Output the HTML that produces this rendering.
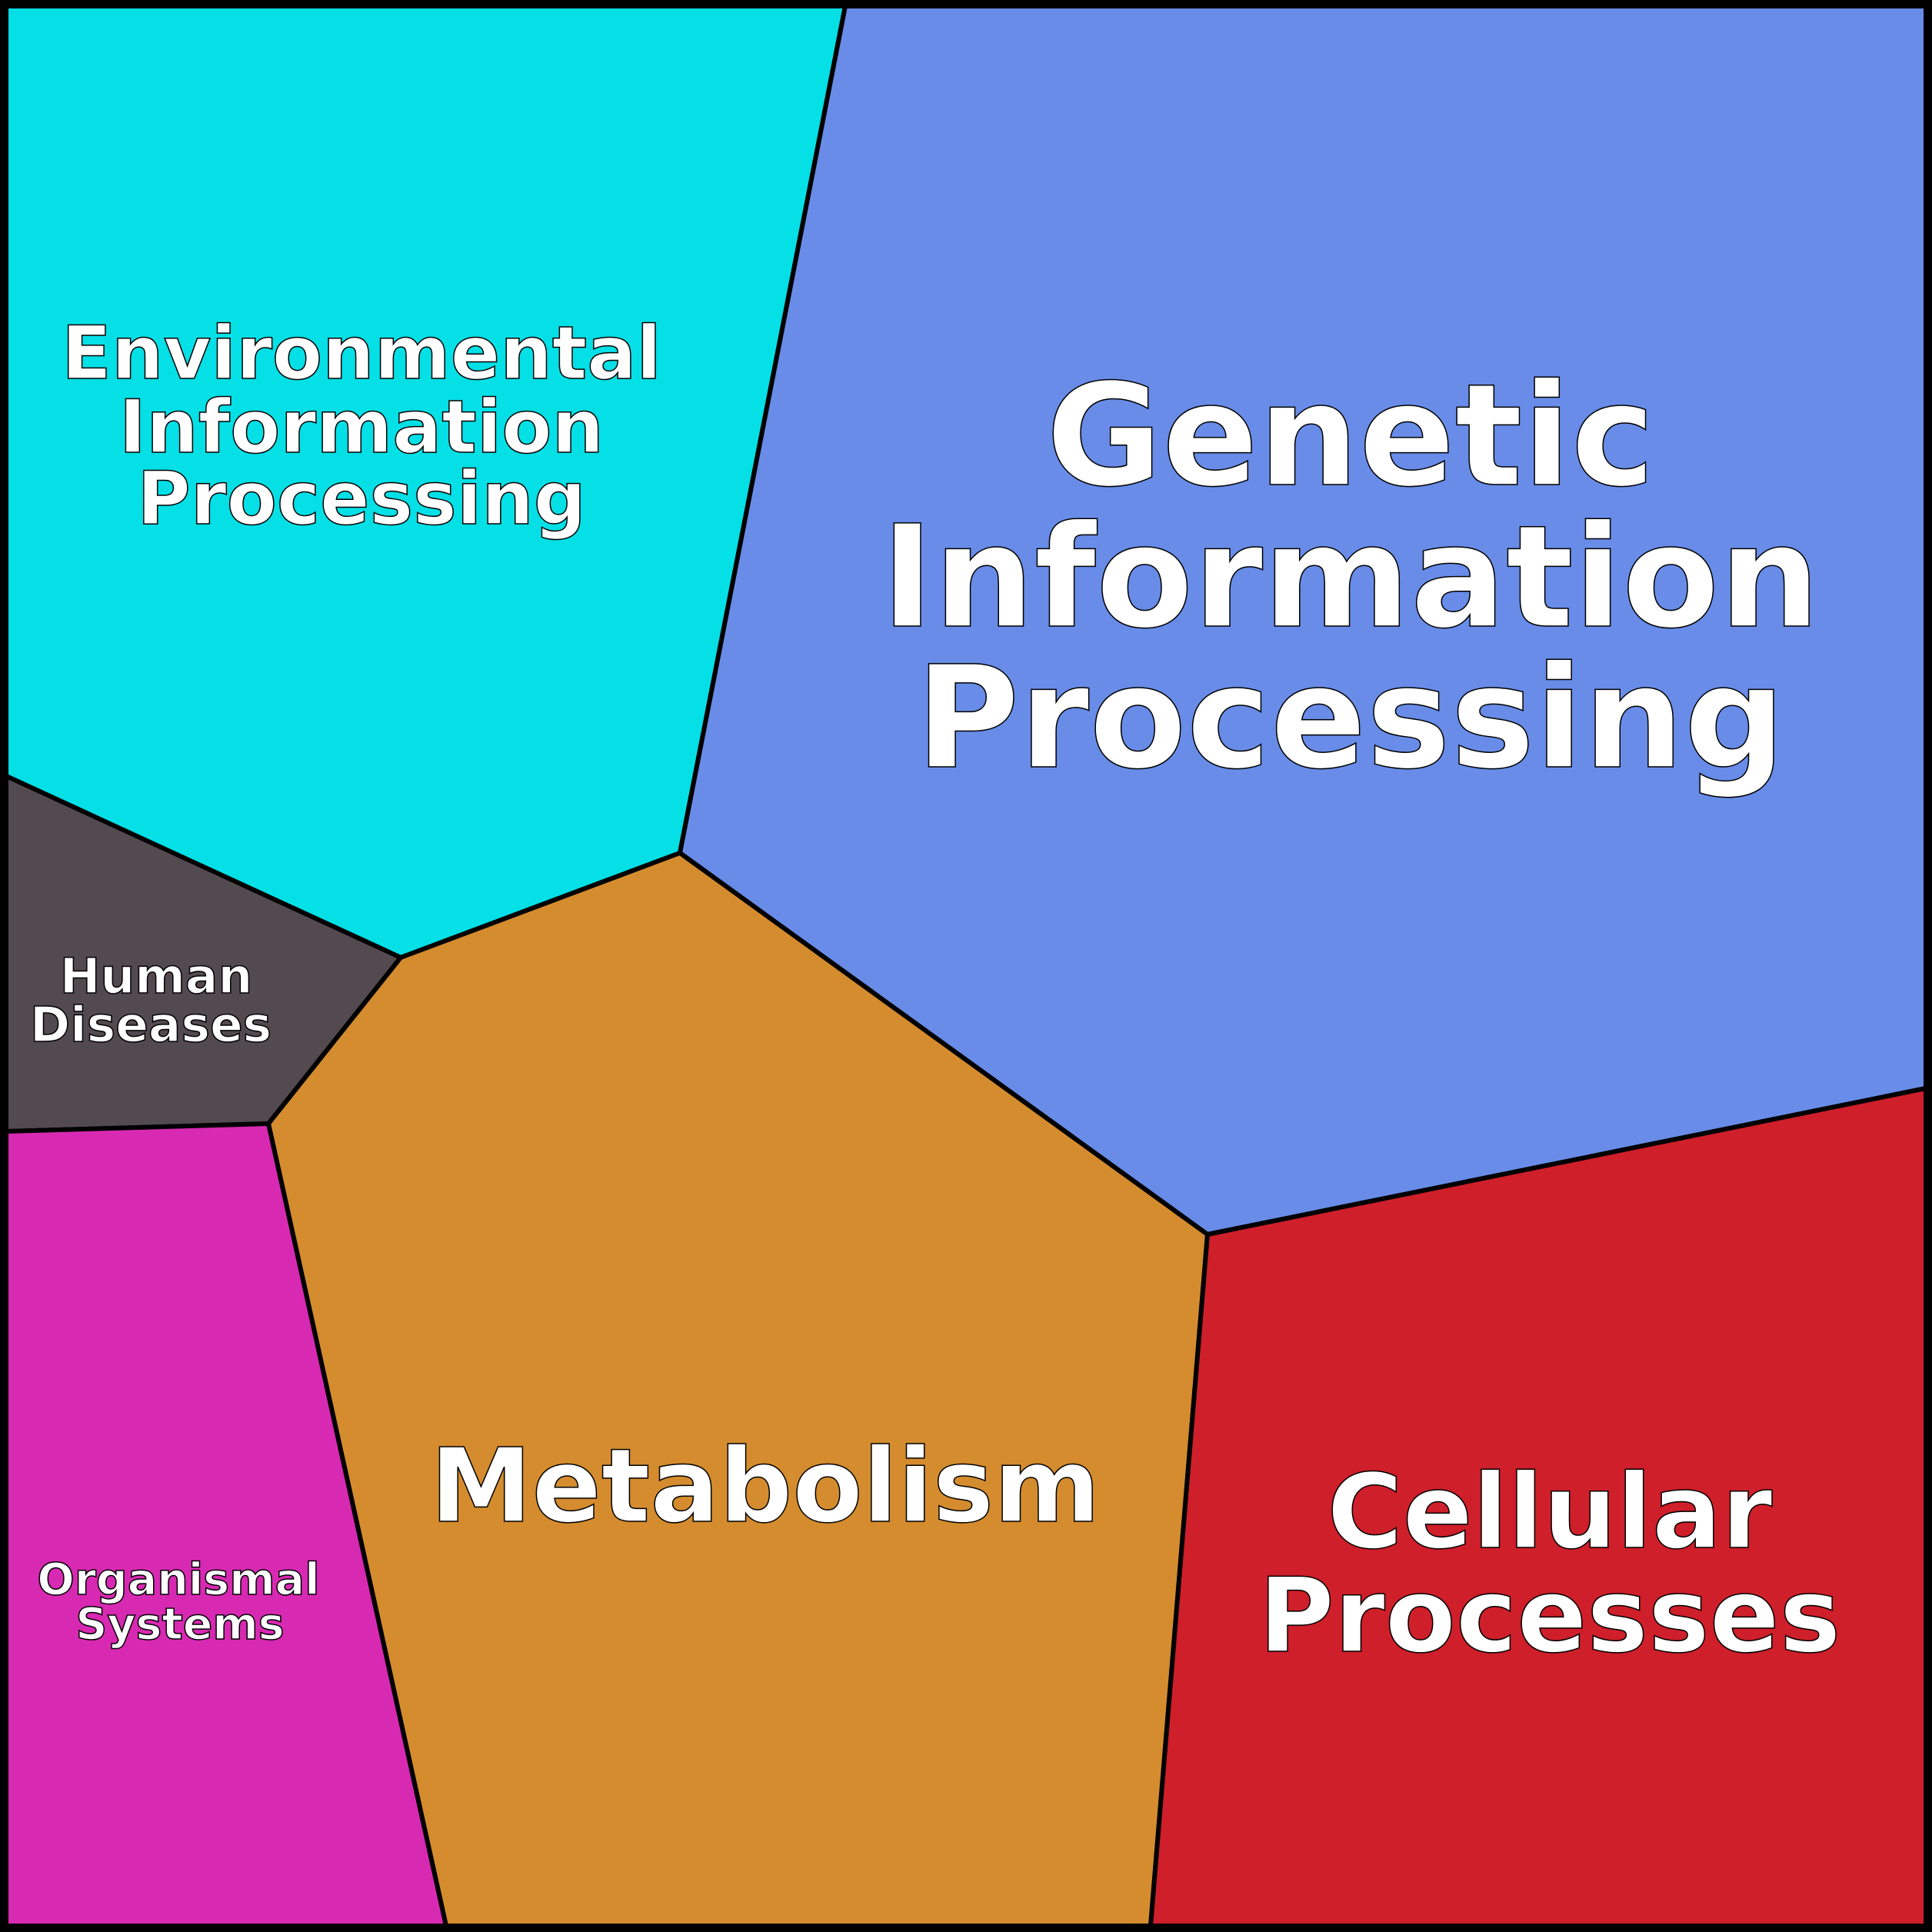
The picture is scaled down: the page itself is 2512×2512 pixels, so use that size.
<!DOCTYPE html>
<html><head><meta charset="utf-8"><style>
html,body{margin:0;padding:0;background:#fff}
svg{display:block}
text{font-family:"DejaVu Sans","Liberation Sans",sans-serif;font-weight:bold;fill:#fff;stroke:#000;stroke-width:1.5;text-anchor:middle}
</style></head><body>
<svg width="2512" height="2512" viewBox="0 0 2512 2512" xmlns="http://www.w3.org/2000/svg">
<g stroke="#000" stroke-width="6" stroke-linejoin="round">
<polygon fill="#05dfe6" points="8,8 1099,8 884,1109 521,1245 8,1009"/>
<polygon fill="#688ce8" points="1099,8 2504,8 2504,1415 1570,1605 884,1109"/>
<polygon fill="#534a4f" points="8,1009 521,1245 349,1461 8,1471"/>
<polygon fill="#d48c2e" points="884,1109 1570,1605 1496,2504 580,2504 349,1461 521,1245"/>
<polygon fill="#d829b3" points="8,1471 349,1461 580,2504 8,2504"/>
<polygon fill="#ce1f2a" points="1570,1605 2504,1415 2504,2504 1496,2504"/>
</g>
<rect x="5" y="5" width="2502" height="2502" fill="none" stroke="#000" stroke-width="10"/>
<g style="font-size:184px">
<text x="1756" y="630">Genetic</text>
<text x="1756" y="814">Information</text>
<text x="1756" y="997">Processing</text>
</g>
<g style="font-size:95px">
<text x="470" y="492">Environmental</text>
<text x="470" y="588">Information</text>
<text x="470" y="681">Processing</text>
</g>
<g style="font-size:63px">
<text x="203" y="1291">Human</text>
<text x="196" y="1354">Diseases</text>
</g>
<g style="font-size:57px">
<text x="232" y="2073">Organismal</text>
<text x="234" y="2131">Systems</text>
</g>
<text x="995" y="1978" style="font-size:133px">Metabolism</text>
<g style="font-size:134px">
<text x="2015" y="2012">Cellular</text>
<text x="2015" y="2147">Processes</text>
</g>
</svg>
</body></html>
